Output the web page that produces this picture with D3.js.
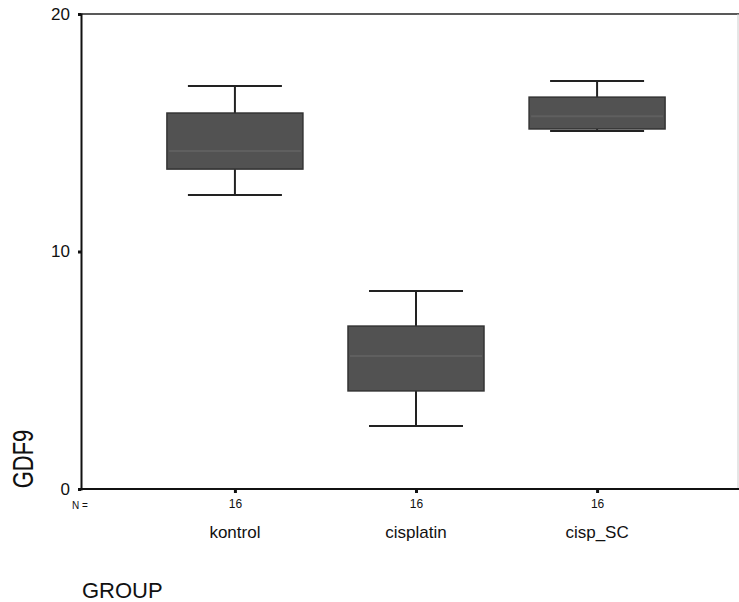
<!DOCTYPE html>
<html>
<head>
<meta charset="utf-8">
<script src="https://cdn.jsdelivr.net/npm/d3@7"></script>
<style>
  body { margin: 0; background: #fff; }
  text { font-family: "Liberation Sans", Arial, sans-serif; fill: #111; }
</style>
</head>
<body>
<div id="chart"></div>
<script>
// data
const groups = ["kontrol", "cisplatin", "cisp_SC"]
const counts = [16, 16, 16]
const whiskerLow = [12.38, 2.65, 15.07]
const q1 = [13.47, 4.13, 15.16]
const median = [14.23, 5.6, 15.7]
const q3 = [15.83, 6.86, 16.5]
const whiskerHigh = [16.97, 8.34, 17.18]
const yTicks = [0, 10, 20]

const W = 739, H = 602
const margin = {top: 14, left: 81, bottom: 113}

const svg = d3.select("#chart").append("svg")
  .attr("width", W).attr("height", H)

const y = d3.scaleLinear().domain([0, 20]).range([H - margin.bottom, margin.top])
const x = d3.scalePoint().domain(groups).range([margin.left, 751]).padding(0.85)

const boxW = 136, capW = 94

// frame: top and right
svg.append("line")
  .attr("x1", margin.left).attr("x2", W).attr("y1", y(20)).attr("y2", y(20))
  .attr("stroke", "#222").attr("stroke-width", 1.5)
svg.append("line")
  .attr("x1", W - 1).attr("x2", W - 1).attr("y1", y(20)).attr("y2", y(0))
  .attr("stroke", "#ccc").attr("stroke-width", 1)

// y axis
const yAxis = svg.append("g")
  .attr("transform", "translate(" + margin.left + ",0)")
  .call(d3.axisLeft(y).tickValues(yTicks).tickSize(3).tickPadding(8))
yAxis.select(".domain").attr("stroke", "#111").attr("stroke-width", 2)
yAxis.selectAll(".tick line").attr("stroke", "#111").attr("stroke-width", 3)
yAxis.selectAll(".tick text").style("font-size", "17px").attr("fill", "#111")

// x axis
const xAxis = svg.append("g")
  .attr("transform", "translate(0," + y(0) + ")")
  .call(d3.axisBottom(x).tickSize(4).tickFormat((d, i) => counts[i]).tickPadding(6))
xAxis.select(".domain").attr("d", "M" + margin.left + ",0H" + W).attr("stroke", "#111").attr("stroke-width", 2)
xAxis.selectAll(".tick line").attr("stroke", "#111").attr("stroke-width", 3)
xAxis.selectAll(".tick text").style("font-size", "12px").attr("fill", "#111")

svg.append("text").attr("x", 72).attr("y", 509).text("N =").style("font-size", "10px")

svg.selectAll(".cat").data(groups).enter().append("text")
  .attr("class", "cat")
  .attr("x", d => x(d)).attr("y", 538)
  .attr("text-anchor", "middle")
  .style("font-size", "17px")
  .text(d => d)

svg.append("text").attr("x", 82).attr("y", 598).text("GROUP").style("font-size", "22px")

// y title, drawn a bit taller like the scanned original
svg.append("text")
  .attr("transform", "translate(33,459) rotate(-90) scale(1,1.3)")
  .attr("text-anchor", "middle")
  .style("font-size", "22px")
  .text("GDF9")

// boxes
const g = svg.append("g")
groups.forEach((grp, i) => {
  const cx = x(grp)
  g.append("line").attr("x1", cx).attr("x2", cx)
    .attr("y1", y(whiskerHigh[i])).attr("y2", y(q3[i]))
    .attr("stroke", "#222").attr("stroke-width", 2)
  g.append("line").attr("x1", cx).attr("x2", cx)
    .attr("y1", y(q1[i])).attr("y2", y(whiskerLow[i]))
    .attr("stroke", "#222").attr("stroke-width", 2)
  g.append("line").attr("x1", cx - capW / 2).attr("x2", cx + capW / 2)
    .attr("y1", y(whiskerHigh[i])).attr("y2", y(whiskerHigh[i]))
    .attr("stroke", "#222").attr("stroke-width", 2)
  g.append("line").attr("x1", cx - capW / 2).attr("x2", cx + capW / 2)
    .attr("y1", y(whiskerLow[i])).attr("y2", y(whiskerLow[i]))
    .attr("stroke", "#222").attr("stroke-width", 2)
  g.append("rect")
    .attr("x", cx - boxW / 2).attr("width", boxW)
    .attr("y", y(q3[i])).attr("height", y(q1[i]) - y(q3[i]))
    .attr("fill", "#525252").attr("stroke", "#333").attr("stroke-width", 1.5)
  g.append("line").attr("x1", cx - boxW / 2 + 2).attr("x2", cx + boxW / 2 - 2)
    .attr("y1", y(median[i])).attr("y2", y(median[i]))
    .attr("stroke", "#5f5f5f").attr("stroke-width", 2)
})
</script>
</body>
</html>
